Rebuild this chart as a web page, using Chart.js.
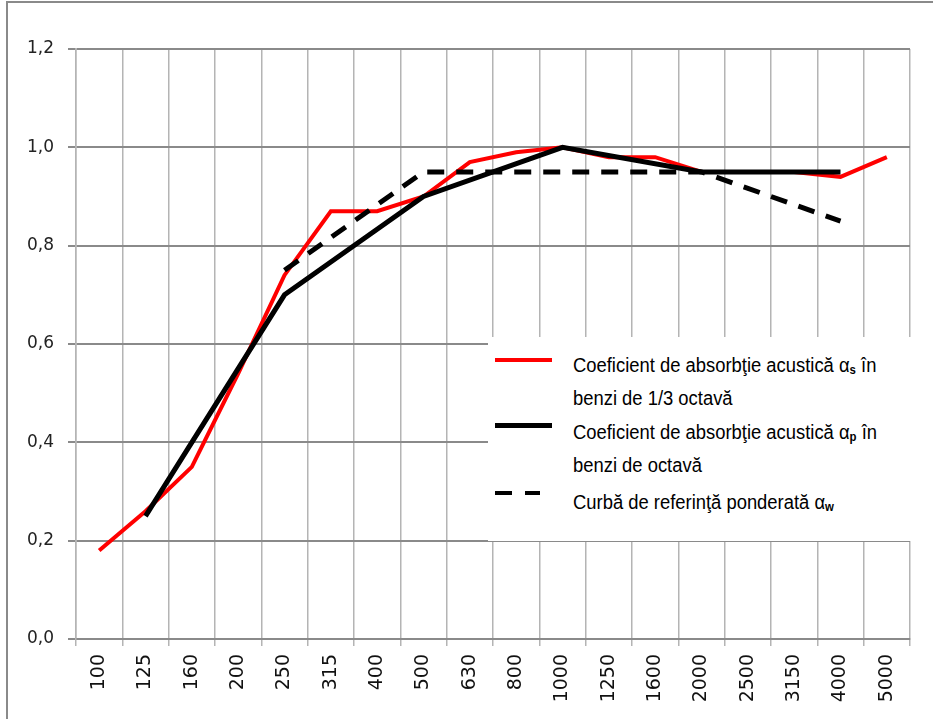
<!DOCTYPE html>
<html>
<head>
<meta charset="utf-8">
<script src="https://cdn.jsdelivr.net/npm/chart.js@4/dist/chart.umd.min.js"></script>
<style>
  html, body { margin: 0; padding: 0; background: #fff; }
  #wrap { position: relative; width: 933px; height: 719px; overflow: hidden; }
  #frame { position: absolute; left: 6px; top: 1px; width: 1000px; height: 1000px; border-left: 2px solid #8a8a8a; border-top: 2px solid #8a8a8a; box-sizing: border-box; pointer-events: none; }
  #legend { position: absolute; left: 488px; top: 337px; width: 445px; height: 204px; background: #fff; font-family: "Liberation Sans", Arial, sans-serif; color: #000; }
  .txt { position: absolute; left: 85px; font-size: 20px; line-height: 20px; white-space: nowrap; transform: scaleX(0.92); transform-origin: left center; }
  .sample { position: absolute; left: 7px; width: 57px; }
  sub { font-size: 62%; font-weight: bold; vertical-align: -2px; line-height: 0; }
</style>
</head>
<body>
<div id="wrap">
  <canvas id="c" width="933" height="719"></canvas>
  <div id="frame"></div>
  <div id="legend">
    <div class="sample" style="top:21px;height:4px;background:#ff0000;"></div>
    <div class="txt" style="top:18px;">Coeficient de absorbţie acustică α<sub>s</sub> în</div>
    <div class="txt" style="top:51px;">benzi de 1/3 octavă</div>
    <div class="sample" style="top:86px;height:5px;background:#000;"></div>
    <div class="txt" style="top:85px;">Coeficient de absorbţie acustică α<sub>p</sub> în</div>
    <div class="txt" style="top:118px;">benzi de octavă</div>
    <div class="sample" style="top:154px;height:4px;background:linear-gradient(to right,#000 0,#000 17px,transparent 17px,transparent 30px,#000 30px,#000 45px,transparent 45px);"></div>
    <div class="txt" style="top:155px;">Curbă de referinţă ponderată α<sub>w</sub></div>
  </div>
</div>
<script>
// Frequency bands (Hz)
const categories = ['100','125','160','200','250','315','400','500','630','800','1000','1250','1600','2000','2500','3150','4000','5000'];
// Sound absorption coefficient, 1/3 octave bands (alpha_s)
const alphaS = [0.18,0.26,0.35,0.54,0.74,0.87,0.87,0.90,0.97,0.99,1.00,0.98,0.98,0.95,0.95,0.95,0.94,0.98];
// Practical sound absorption coefficient, octave bands (alpha_p)
const alphaP = [null,0.25,null,null,0.70,null,null,0.90,null,null,1.00,null,null,0.95,null,null,0.95,null];
// Weighted reference curve (alpha_w)
const alphaW = [null,null,null,null,0.75,null,null,0.95,null,null,0.95,null,null,0.95,null,null,0.85,null];
// Y tick labels
const yTickLabels = ['0,0','0,2','0,4','0,6','0,8','1,0','1,2'];

new Chart(document.getElementById('c'), {
  type: 'line',
  data: {
    labels: categories,
    datasets: [
      { label: 'αs', data: alphaS, borderColor: '#ff0000', borderWidth: 4, pointRadius: 0, tension: 0, order: 3, spanGaps: true },
      { label: 'αp', data: alphaP, borderColor: '#000000', borderWidth: 5, pointRadius: 0, tension: 0, order: 2, spanGaps: true },
      { label: 'αw', data: alphaW, borderColor: '#000000', borderWidth: 5, borderDash: [17, 12], borderCapStyle: 'butt', pointRadius: 0, tension: 0, order: 1, spanGaps: true }
    ]
  },
  options: {
    responsive: false,
    animation: false,
    layout: { padding: { left: 0, top: 49, right: 23, bottom: 0 } },
    plugins: { legend: { display: false }, tooltip: { enabled: false } },
    scales: {
      x: {
        offset: true,
        grid: { offset: true, color: '#b4b4b4', lineWidth: 1.5, tickLength: 7, drawTicks: true },
        border: { color: '#8a8a8a', width: 2 },
        ticks: {
          minRotation: 90, maxRotation: 90, padding: 8, autoSkip: false,
          color: '#111', font: { family: 'DejaVu Sans', size: 19 }
        },
        afterFit(scale) { scale.height = 80; }
      },
      y: {
        min: 0, max: 1.2,
        grid: { color: '#8a8a8a', lineWidth: 2, tickLength: 8, drawTicks: true },
        border: { color: '#b4b4b4', width: 1.5 },
        ticks: {
          stepSize: 0.2, padding: 14, color: '#222',
          font: { family: 'DejaVu Sans', size: 17 },
          callback: (v, i) => yTickLabels[i]
        },
        afterFit(scale) { scale.width = 76; }
      }
    }
  }
});
</script>
</body>
</html>
